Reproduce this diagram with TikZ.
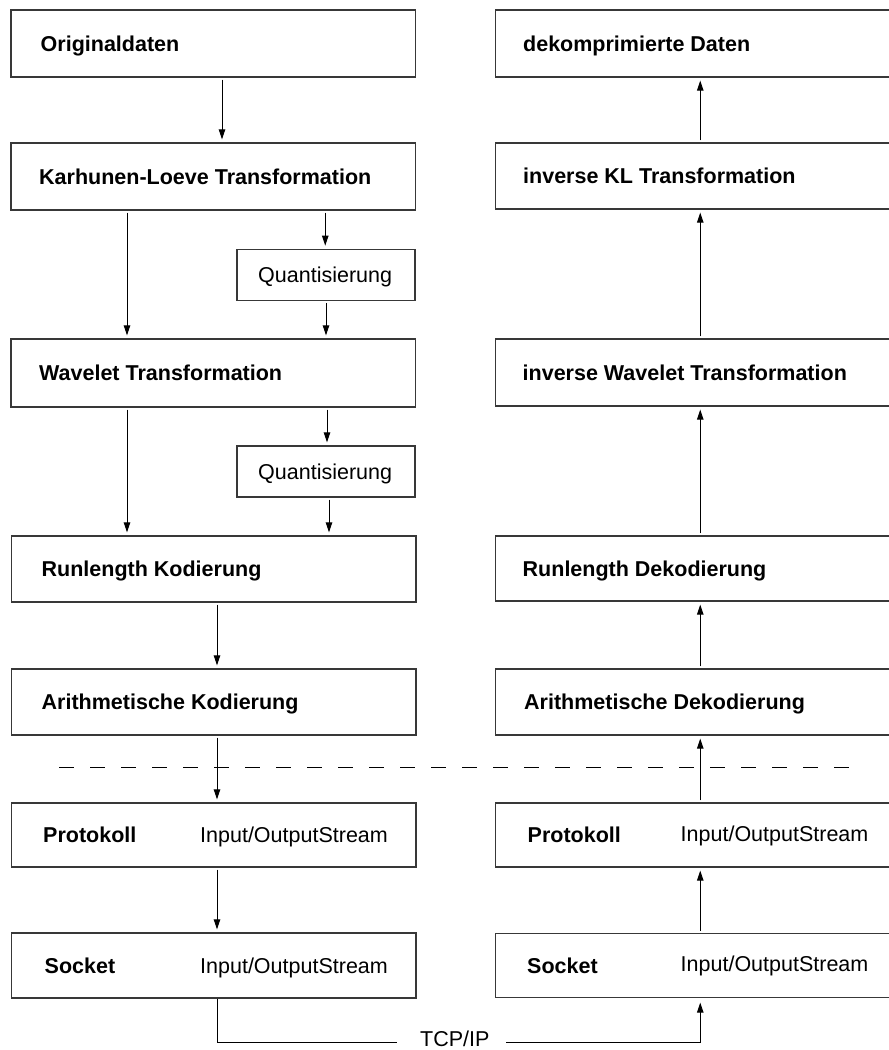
\documentclass[tikz,border=0pt]{standalone}
\usepackage{fontspec}
\setmainfont{Liberation Sans}
\usetikzlibrary{arrows.meta}
\begin{document}
\begin{tikzpicture}[x=1pt,y=-1pt,
  box/.style={draw=black!78, line width=1.3pt, inner sep=0pt, rectangle},
  lbl/.style={anchor=west, inner sep=0pt, text height=15.4pt, text depth=0pt, font=\fontsize{21.5}{24}\selectfont\bfseries},
  txt/.style={anchor=west, inner sep=0pt, text height=15.4pt, text depth=0pt, font=\fontsize{21.5}{24}\selectfont},
  arr/.style={-{Triangle[width=6.5pt,length=10pt]}, line width=1pt, shorten >=3pt, shorten <=2pt},
  lbox/.style={box, minimum width=404.5pt},
  rbox/.style={box, minimum width=409.5pt},
  qbox/.style={box, minimum width=178pt, minimum height=51pt}
]
\useasboundingbox (0,0) rectangle (889,1050);
\clip (0,0) rectangle (889,1050);

% left column boxes
\node[lbox, minimum height=67pt] (orig) at (213.25,43.5) {};
\node[lbox, minimum height=67pt] (kl)   at (213.25,176.5) {};
\node[qbox] (q1) at (326,274.75) {};
\node[lbox, minimum height=68pt] (wav)  at (213.25,373) {};
\node[qbox] (q2) at (326,471.5) {};
\node[lbox, minimum height=66pt] (rlk)  at (213.75,569) {};
\node[lbox, minimum height=66pt] (ak)   at (213.75,702) {};
\node[lbox, minimum height=64pt] (prot) at (213.75,835) {};
\node[lbox, minimum height=65pt] (sock) at (213.75,965.5) {};

% right column boxes
\node[rbox, minimum height=67pt] (dek)   at (700.25,43.5) {};
\node[rbox, minimum height=66pt] (ikl)   at (700.25,176) {};
\node[rbox, minimum height=67pt] (iwt)   at (700.25,372.5) {};
\node[rbox, minimum height=65pt] (rld)   at (700.25,568.5) {};
\node[rbox, minimum height=66pt] (ad)    at (700.25,702) {};
\node[rbox, minimum height=64pt] (rprot) at (700.25,835) {};
\node[rbox, minimum height=64pt] (rsock) at (700.25,965.5) {};

% labels left
\node[lbl] (t1) at (40.5,43.5) {Originaldaten};
\node[lbl] (t2) at (39,176.5) {Karhunen-Loeve Transformation};
\node[txt] (t3) at (258,274.75) {Quantisierung};
\node[lbl] (t4) at (39,373) {Wavelet Transformation};
\node[txt] (t5) at (258,471.5) {Quantisierung};
\node[lbl] (t6) at (41.5,569) {Runlength Kodierung};
\node[lbl] (t7) at (41.5,702) {Arithmetische Kodierung};
\node[lbl] (t8) at (43,835) {Protokoll};
\node[txt] (t9) at (200,835) {Input/OutputStream};
\node[lbl] (t10) at (44.5,965.5) {Socket};
\node[txt] (t11) at (200,965.5) {Input/OutputStream};

% labels right
\node[lbl] (r1) at (523,43.5) {dekomprimierte Daten};
\node[lbl] (r2) at (523,176) {inverse KL Transformation};
\node[lbl] (r3) at (522.5,372.5) {inverse Wavelet Transformation};
\node[lbl] (r4) at (522.5,568.5) {Runlength Dekodierung};
\node[lbl] (r5) at (524,702) {Arithmetische Dekodierung};
\node[lbl] (r6) at (527.5,835) {Protokoll};
\node[txt] (r7) at (680.5,834) {Input/OutputStream};
\node[lbl] (r8) at (527,965.5) {Socket};
\node[txt] (r9) at (680.5,963.5) {Input/OutputStream};

% dashed separator
\coordinate (dl) at (59,767.7);
\coordinate (dr) at (849,767.7);
\draw[line width=1pt, dash pattern=on 15pt off 16pt] (dl) -- (dr);

% left arrows
\draw[arr] ([xshift=8.75pt]orig.south) -- ([xshift=8.75pt]kl.north);
\draw[arr] ([xshift=-86.25pt]kl.south) -- ([xshift=-86.25pt]wav.north);
\draw[arr] ([xshift=112pt]kl.south) -- ([xshift=-0.75pt]q1.north);
\draw[arr] (q1.south) -- ([xshift=112.75pt]wav.north);
\draw[arr] ([xshift=-86.25pt]wav.south) -- ([xshift=-86.75pt]rlk.north);
\draw[arr] ([xshift=113.75pt]wav.south) -- ([xshift=1pt]q2.north);
\draw[arr] ([xshift=3pt]q2.south) -- ([xshift=115.25pt]rlk.north);
\draw[arr] ([xshift=3.25pt]rlk.south) -- ([xshift=3.25pt]ak.north);
\draw[arr] ([xshift=3.25pt]ak.south) -- ([xshift=3.25pt]prot.north);
\draw[arr] ([xshift=3.25pt]prot.south) -- ([xshift=3.25pt]sock.north);

% right arrows (upwards)
\draw[arr] (rsock.north) -- (rprot.south);
\draw[arr] (rprot.north) -- (ad.south);
\draw[arr] (ad.north) -- (rld.south);
\draw[arr] (rld.north) -- (iwt.south);
\draw[arr] (iwt.north) -- (ikl.south);
\draw[arr] (ikl.north) -- (dek.south);

% TCP/IP connection
\coordinate (c1) at (397,1042.3);
\coordinate (c2) at (504,1042.3);
\node[txt] (tcp) at (420,1039) {TCP/IP};
\draw[line width=1pt] ([xshift=3.25pt]sock.south) |- (c1);
\draw[arr, shorten >=4.5pt] (c2) -| (rsock.south);
\end{tikzpicture}
\end{document}
